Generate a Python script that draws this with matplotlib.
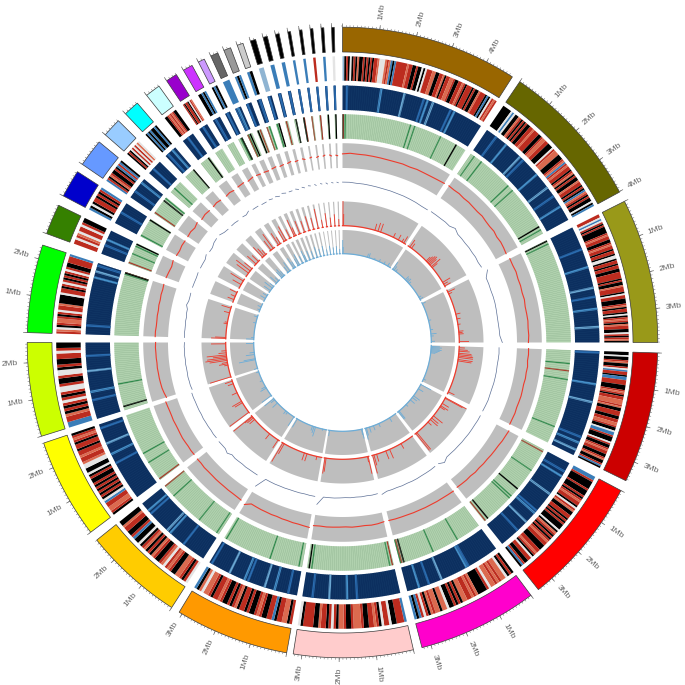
import itertools
import numpy as np
import matplotlib.pyplot as plt

plt.rcParams['font.family'] = ['Liberation Sans', 'DejaVu Sans']

# scaffolds, clockwise from the top (degrees)
sector_starts = [0.0, 34.2, 63.4, 91.9, 118.0, 143.3, 167.0, 190.2, 212.8, 233.0, 252.7, 271.8,
                 290.2, 297.7, 304.4, 311.2, 316.5, 321.6, 326.1, 329.7, 332.8, 335.3, 337.9, 340.5,
                 343.0, 345.4, 347.7, 350.0, 352.1, 354.1, 356.1, 358.0]
sector_ends = [32.6, 61.5, 90.0, 116.0, 141.6, 165.4, 189.0, 211.2, 231.2, 251.4, 270.0, 288.0,
               295.8, 302.8, 309.5, 314.7, 319.4, 324.4, 328.2, 331.5, 334.0, 336.7, 339.2, 341.6,
               344.0, 346.2, 348.4, 350.5, 352.6, 354.6, 356.6, 358.5]
sector_colors = ['#996600', '#666600', '#999919', '#cc0000', '#ff0000', '#ff00cc', '#ffcccc', '#ff9900',
                 '#ffcc00', '#ffff00', '#ccff00', '#00ff00', '#358000', '#0000cc', '#6699ff', '#99ccff',
                 '#00ffff', '#ccffff', '#9900cc', '#cc33ff', '#cc99ff', '#666666', '#999999', '#cccccc',
                 '#000000', '#000000', '#000000', '#000000', '#000000', '#000000', '#000000', '#000000']
deg_per_mb = 6.8

# ring 2, cells along each scaffold: R red, L salmon, K black, W white, B blue, P pale blue
heat1_cells = [
    "PKRKWKRKLKKRKRKRKRRLWWWLRLBKBRRRRRRLRRKKRKKWKWRRRLLKKRRLKRRLLRKKRRLRKRRRKRKKLRRRKBKWRLR",
    "KKKKKWBWKKLRKRKRKKRRLRRRKKRLLRRKKKWRLLLKKKRLBRLRRKRLKRKKLRRKRKBLRKRKKWKB",
    "RRWBWRKRKKKKRLRRKKRLRRKRRKWWKRRKRRKKRRRRKRKKLRRRKWRRKKKRLKRRKWKRLRKLRRKKWRKRLK",
    "KKWKKRLKKRWBRRKBBRRRKKKRLRKRRLLLRLKKRRRKKRRLLRKKWBBRKKKWRKKRLRRKKRLKKRBK",
    "BBRKKKKRKKKRKRLRRKWRLKKRRKRKRKKKWKLRKRKRLRRKKKRRLRKWRRKKRBK",
    "KRKWLLRLRLLWRKKKKLRLRRLLKRKRKKWLLKLLRLKRWRBKB",
    "BRRRKKWRRWKRLRRKKRLLLRKKRLLKRWRKRRLKKRRRRKW",
    "RKLLRRKBRRKKRLRKKRKRRKLRKRKKRLRRKRLLWLKB",
    "WRKRLLKKRLRWLRKKRLKRKLRKWKKBRKKRRLKK",
    "KRLLRRBWKRKRKRKRKKRKWKKWWLRRLRRKRRKRLRK",
    "BBRRLKRKRWRKRWWRKKRWWKRKKRRWRKK",
    "RLWKRLLRKRWRRLKKKKWRRKRWRKRKRWRKKRRRB",
    "RRWRLWRRWRKK", "BKWKRRKRKRB", "BRKLRKKRKBRBK", "KRKWRWRWLW", "KBKBKKBK", "KKRLRLRKK",
    "RKRRKWRL", "KKBKB", "KBK", "BB", "BKB", "BK",
    "P", "B", "B", "B", "B", "R", "B", "W",
]

# ring 3, lighter stripes (Mb from the scaffold start)
heat2_stripes = [
    [0.15, 1.28, 2.06, 2.72, 2.85, 3.04, 3.67, 3.8], [0.38, 0.79, 1.4, 1.55, 2.2, 2.75, 3.1, 3.5],
    [0.78, 1.4, 2.1, 2.4, 2.8, 3.4], [0.05, 1.1, 1.7, 2.9, 3.1, 3.35], [0.32, 0.5, 1.2, 1.9, 2.0, 2.4, 2.8],
    [1.07, 1.15, 2.06, 2.5, 2.84], [1.43, 1.76, 2.35, 2.9], [0.3, 0.76, 1.1, 1.68, 1.8, 2.34, 3.0],
    [0.8, 1.37, 1.5, 2.27, 2.4], [1.32, 1.65, 2.03, 2.57], [0.63, 0.91, 1.6, 2.1], [0.3, 1.9, 2.1, 2.3],
    [0.31, 0.5], [0.4], [0.25, 0.6], [0.2], [0.1, 0.3], [0.2], [0.15], [0.1], [0.08], [0.0, 0.1], [0.05], [0.1],
    [0.05], [0.06], [0.05], [0.03], [0.03], [0.03], [0.03], [0.03],
]

# ring 4, dark stripes on the pale green (Mb from the scaffold start)
heat3_green = [
    [0.1, 2.56, 2.72, 3.75], [0.16, 0.49, 1.82, 2.06, 3.85], [0.15], [0.5, 1.1, 2.9], [0.9, 2.1, 2.2],
    [0.95, 1.95, 3.22], [0.15, 3.05], [0.12, 1.23, 3.0], [0.1, 0.9, 2.2], [0.77, 1.16], [1.0], [2.3],
    [0.4, 0.7], [0.05], [0.7], [0.2], [], [], [], [], [0.1], [0.05], [], [0.12],
    [0.05], [], [], [], [], [], [], [],
]
heat3_black = [
    [0.0, 4.4], [3.72], [0.03], [], [1.75, 3.3], [3.1], [3.15], [], [], [], [0.15], [2.35],
    [0.78], [0.7], [0.6], [], [0.4], [0.35], [], [], [0.15], [0.12], [0.05], [],
    [0.12], [], [0.08], [0.02], [], [0.1], [0.05], [0.05],
]
heat3_red = [
    [0.03], [], [], [0.77], [0.09, 3.42], [3.18], [0.05], [], [2.67], [0.05], [], [2.37],
    [0.05], [], [0.05], [], [], [], [], [], [], [0.02], [0.14], [0.02],
    [], [0.05], [], [0.06], [0.02], [0.05], [], [],
]

# ring 5, red line (percent of the grey band, evenly spaced along a scaffold)
gc_values = [
    [57, 60, 58, 58, 57, 56, 55, 55, 56, 54, 56, 55, 55, 56, 58],
    [60, 58, 59, 56, 57, 55, 54, 56, 53, 52, 54, 50, 52, 50, 47],
    [51, 50, 52, 49, 50, 48, 50, 47, 48, 49, 47, 48, 46],
    [47, 48, 46, 49, 47, 48, 46, 47, 48, 47, 46, 48, 47, 47],
    [56, 54, 53, 50, 49, 48, 46, 46, 44, 45, 42, 43, 42, 41],
    [44, 43, 42, 42, 41, 41, 40, 40, 39, 39, 39, 38],
    [38, 41, 42, 40, 41, 42, 40, 41, 42, 43, 42, 44],
    [54, 52, 50, 50, 48, 48, 46, 47, 46, 46, 45, 44, 60],
    [52, 50, 49, 49, 48, 48, 48, 47, 47, 48, 46, 47],
    [46, 47, 46, 47, 48, 47, 46, 46, 47, 46, 46, 47, 48],
    [40, 44, 47, 48, 49, 49, 50, 49, 50, 50, 51, 50],
    [52, 52, 50, 50, 51, 50, 52, 51, 53, 52, 54],
    [54, 52, 50, 55], [52, 50, 53, 52], [52, 54, 50, 56], [50, 54, 52], [52, 55, 52], [50, 53, 50],
    [52, 54], [50, 55], [54, 52], [52, 50], [52, 54], [50, 52],
    [52, 55], [50, 52], [54, 50], [52, 54], [50, 53], [52, 55], [54, 50], [52, 50],
]

# ring 6, thin blue-grey line (percent of the empty band)
depth_values = [
    [60, 60, 58, 58, 57, 56, 55, 55, 54, 54, 53, 52, 50, 50],
    [52, 52, 52, 53, 52, 60, 52, 52, 51, 52, 51, 52, 50, 52],
    [66, 50, 50, 49, 50, 50, 49, 48, 48, 49, 50, 58],
    [47, 48, 47, 46, 47, 47, 47, 46, 46, 47, 46, 45],
    [45, 45, 44, 44, 44, 43, 43, 42, 42, 41, 41, 50, 40],
    [40, 41, 41, 41, 42, 42, 41, 42, 41, 42, 42, 48],
    [42, 43, 42, 43, 42, 43, 42, 43, 44, 44, 44, 72],
    [46, 46, 45, 46, 46, 46, 47, 47, 48, 48, 48, 86],
    [50, 50, 50, 51, 50, 51, 52, 50, 58, 52, 52, 53],
    [52, 53, 52, 53, 53, 54, 53, 54, 54, 54, 55, 55],
    [50, 52, 52, 53, 52, 52, 53, 52, 53, 52, 53, 52],
    [52, 53, 52, 52, 53, 52, 54, 54, 60, 56, 56, 57],
    [58, 58, 58, 60], [60, 60, 60, 66], [62, 62, 68, 70], [70, 64, 62], [62, 62, 60], [60, 58, 64],
    [60, 60], [58, 58], [60, 58], [60, 56], [62, 58], [58, 58],
    [60, 56], [60, 56], [60, 58], [60, 56], [60, 58], [60, 56], [60, 58], [60, 58],
]

# ring 7, red spikes: (Mb from the scaffold start, height)
red_spikes = [
    [(0.03, 25), (0.08, 12), (2.37, 7), (2.6, 9), (2.8, 9), (3.8, 5), (4.2, 6), (4.5, 4), (4.65, 8)],
    [(0.15, 9), (0.3, 6), (1.7, 6), (1.8, 8), (1.9, 10), (2.0, 11), (2.1, 9), (2.25, 12), (2.35, 7),
     (3.65, 9), (3.8, 5), (3.95, 7)],
    [(0.15, 8), (0.3, 4), (1.85, 5), (2.2, 4), (2.6, 3), (3.1, 5), (3.2, 4), (3.3, 5), (3.85, 10)],
    [(0.1, 6), (0.25, 9), (0.35, 11), (0.5, 13), (0.6, 14), (0.7, 15), (0.8, 15), (0.95, 15), (1.05, 14),
     (3.4, 7)],
    [(0.03, 24), (0.08, 20), (0.5, 8), (0.7, 9), (0.8, 6), (1.6, 12), (1.8, 9), (1.95, 10), (2.2, 5),
     (3.3, 22), (3.4, 22)],
    [(0.98, 6), (1.9, 10), (2.2, 9), (2.9, 8), (3.1, 11), (3.2, 19)],
    [(0.05, 18), (0.1, 6), (3.1, 14), (3.18, 16)],
    [(0.37, 4), (1.1, 8), (1.3, 8), (2.9, 12), (3.02, 22)],
    [(0.1, 10), (0.85, 7), (2.35, 7), (2.5, 8), (2.6, 10), (2.65, 24)],
    [(0.05, 24), (0.88, 9), (1.0, 11), (1.7, 6), (2.4, 6), (2.6, 8)],
    [(0.03, 22), (0.9, 4), (1.0, 9), (1.1, 6), (1.25, 18), (1.35, 22), (1.45, 20), (1.55, 14), (1.65, 20),
     (1.8, 8), (1.95, 5), (2.45, 15)],
    [(0.03, 15), (0.1, 11), (1.1, 4), (1.2, 3), (1.9, 6), (2.25, 10)],
    [(0.2, 7), (0.45, 5), (0.75, 8)], [(0.3, 10), (0.6, 15)], [(0.3, 15), (0.5, 18), (0.7, 10)],
    [(0.15, 12), (0.4, 9)], [(0.05, 14), (0.2, 10), (0.35, 6)], [(0.1, 12), (0.3, 18)],
    [(0.1, 14), (0.25, 8)], [(0.05, 12), (0.2, 16)], [(0.08, 10)], [(0.05, 18), (0.15, 9)], [(0.1, 14)], [(0.08, 12)],
    [(0.08, 15)], [(0.05, 12)], [(0.05, 20)], [(0.04, 8)], [(0.03, 14)], [(0.04, 9)], [(0.03, 12)], [(0.04, 7)],
]

# ring 8, blue spikes: (Mb from the scaffold start, height)
blue_spikes = [
    [(0.02, 14), (0.06, 7), (2.4, 4), (2.55, 5), (3.1, 2), (3.6, 3), (4.1, 3), (4.5, 4)],
    [(0.05, 9), (0.2, 5), (0.4, 3), (1.6, 5), (1.75, 4), (1.9, 5), (2.1, 3), (3.7, 3), (3.9, 4)],
    [(0.1, 4), (1.8, 3), (2.7, 3), (3.1, 6), (3.3, 3), (3.8, 4)],
    [(0.1, 9), (0.2, 11), (0.3, 9), (0.4, 11), (0.5, 9), (0.6, 7), (0.7, 5), (3.3, 3)],
    [(0.03, 12), (0.5, 6), (1.3, 8), (1.5, 6), (1.8, 6), (2.4, 3), (3.3, 10), (3.4, 10)],
    [(0.7, 5), (1.85, 4), (2.4, 5), (2.8, 6), (3.1, 8), (3.2, 12)],
    [(0.05, 10), (0.1, 6), (3.15, 6)],
    [(0.4, 2), (1.1, 10), (1.25, 7), (1.4, 5), (3.0, 10)],
    [(0.05, 11), (0.8, 3), (1.0, 4), (2.1, 7), (2.5, 5), (2.65, 12)],
    [(0.05, 12), (0.9, 7), (1.05, 5), (1.7, 3), (2.6, 3)],
    [(0.05, 4), (0.9, 17), (1.0, 12), (1.4, 9), (1.6, 5), (2.45, 8)],
    [(0.05, 8), (0.2, 3), (1.6, 3), (2.2, 4)],
    [(0.2, 3), (0.5, 4)], [(0.3, 6), (0.6, 5)], [(0.2, 8), (0.5, 10), (0.7, 5)],
    [(0.15, 9), (0.4, 5)], [(0.05, 8), (0.2, 10), (0.35, 6)], [(0.1, 7), (0.3, 11)],
    [(0.1, 12), (0.25, 7)], [(0.05, 8), (0.2, 12)], [(0.08, 8)], [(0.05, 12), (0.15, 7)], [(0.1, 10)], [(0.08, 8)],
    [(0.08, 11)], [(0.05, 8)], [(0.05, 10)], [(0.04, 6)], [(0.03, 9)], [(0.04, 7)], [(0.03, 8)], [(0.04, 5)],
]

cell_colors = {'R': '#bc2c1f', 'L': '#db6a4f', 'K': '#000000', 'W': '#e4e4e4', 'B': '#3a7db8', 'P': '#8fb4d2'}
stripe_shades = ['#2a6cb0', '#4690c9', '#6aa7d2']
grey = '#bebebe'
red = '#ee3b2c'
light_blue = '#6cadd8'

fig = plt.figure(figsize=(6.85, 6.85), dpi=100)
ax = fig.add_axes([0, 0, 1, 1], projection='polar')
ax.set_theta_zero_location('N')
ax.set_theta_direction(-1)
ax.set_xlim(0, 2 * np.pi)
ax.set_ylim(0, 342.5)
ax.axis('off')


def band(start, end, r0, r1, color, edgecolor='none', linewidth=0):
    # polygon with enough points along the arc to look round
    n = max(2, int((end - start) / 0.4) + 2)
    angles = np.radians(np.linspace(start, end, n))
    ax.fill(np.concatenate([angles, angles[::-1]]), np.concatenate([np.full(n, r0), np.full(n, r1)]),
            facecolor=color, edgecolor=edgecolor, linewidth=linewidth)


def stripe(i, mb, width, r0, r1, color):
    centre = sector_starts[i] + mb * deg_per_mb
    left = max(centre - width / 2, sector_starts[i])
    right = min(centre + width / 2, sector_ends[i])
    if right > left:
        band(left, right, r0, r1, color)


for i, (start, end) in enumerate(zip(sector_starts, sector_ends)):
    # outer coloured band with Mb ticks
    band(start, end, 290.5, 315.3, sector_colors[i], edgecolor='#3a3a3a', linewidth=0.5)
    length = (end - start) / deg_per_mb
    minor = np.radians(start + np.arange(0, length, 0.1) * deg_per_mb)
    ax.vlines(minor, 315.3, 317.3, color='#666666', linewidth=0.35)
    for mb in range(0, int(length) + 1):
        angle = start + mb * deg_per_mb
        ax.vlines(np.radians(angle), 315.3, 319.5, color='#666666', linewidth=0.5)
        if mb == 0:
            continue
        right_side = angle < 180
        ax.text(np.radians(angle), 325, '%dMb' % mb, fontsize=6, color='#666666', va='center',
                ha='left' if right_side else 'right', rotation_mode='anchor',
                rotation=90 - angle if right_side else 270 - angle)

    # red/black heat map
    cells = heat1_cells[i]
    step = (end - start) / len(cells)
    pos = 0
    for code, run in itertools.groupby(cells):
        n = len(list(run))
        band(start + pos * step, start + (pos + n) * step, 261.8, 286.3, cell_colors[code])
        pos += n

    # navy heat map, fine texture first
    band(start, end, 232.5, 257, '#0c2f5f')
    texture = np.radians(np.arange(start + 0.15, end, 0.5))
    ax.vlines(texture, 232.5, 257, color='#1a4170', linewidth=0.2)
    for j, mb in enumerate(heat2_stripes[i]):
        stripe(i, mb, 0.55, 232.5, 257, stripe_shades[j % 3])

    # green heat map
    band(start, end, 203.8, 228.3, '#b0d1ae')
    texture = np.radians(np.arange(start + 0.1, end, 0.5))
    ax.vlines(texture, 203.8, 228.3, color='#86ad88', linewidth=0.2)
    for mb in heat3_green[i]:
        stripe(i, mb, 0.35, 203.8, 228.3, '#2f8a4c')
    for mb in heat3_red[i]:
        stripe(i, mb, 0.35, 203.8, 228.3, '#a8382a')
    for mb in heat3_black[i]:
        stripe(i, mb, 0.4, 203.8, 228.3, '#000000')

    # grey band with red line
    band(start, end, 174.5, 199.3, grey)
    theta = np.radians(np.linspace(start, end, len(gc_values[i])))
    ax.plot(theta, 174.5 + 24.8 * np.array(gc_values[i]) / 100, color=red, linewidth=0.8)

    # thin line, no band
    theta = np.radians(np.linspace(start, end, len(depth_values[i])))
    ax.plot(theta, 143 + 29 * np.array(depth_values[i]) / 100, color='#5d7096', linewidth=0.5)

    # spike rings
    band(start, end, 116.5, 141, grey)
    band(start, end, 88.5, 112.5, grey)
    arc = np.radians(np.linspace(start, end, 30))
    ax.plot(arc, np.full(30, 116.8), color=red, linewidth=0.9)
    ax.plot(arc, np.full(30, 88.8), color=light_blue, linewidth=0.9)
    for mb, h in red_spikes[i]:
        ax.vlines(np.radians(min(start + mb * deg_per_mb, end)), 116.5, 116.5 + h, color=red, linewidth=0.6)
    for mb, h in blue_spikes[i]:
        ax.vlines(np.radians(min(start + mb * deg_per_mb, end)), 88.5, 88.5 + h, color=light_blue, linewidth=0.6)

fig.savefig('out.png', dpi=100, facecolor='white')
